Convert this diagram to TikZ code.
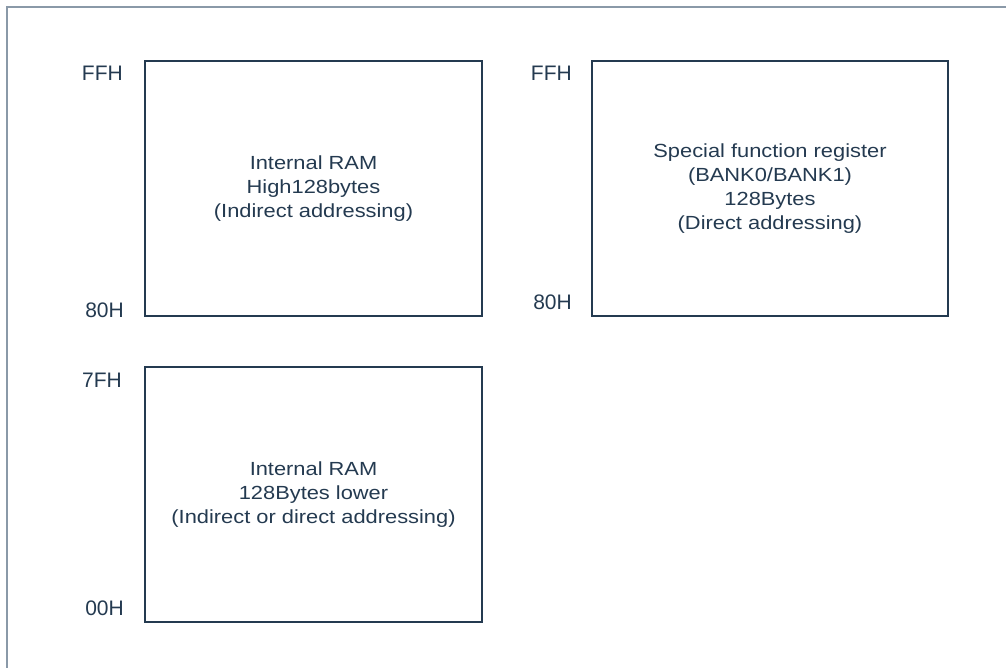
\documentclass[tikz,border=0pt]{standalone}
\usepackage{xcolor}
\usepackage{fontspec}
\setmainfont{Liberation Sans}[FakeStretch=1.15]
\newfontfamily\addrfont{Liberation Sans}
\usepackage{tikz}
\definecolor{framegray}{HTML}{8A99A8}
\definecolor{boxnavy}{HTML}{243A50}
\tikzset{
  membox/.style={draw=boxnavy, line width=1.1pt, align=center, inner sep=0pt,
    font=\fontsize{19}{24}\selectfont, text=boxnavy},
  addr/.style={anchor=base east, inner sep=0pt, text=boxnavy,
    font=\addrfont\fontsize{21}{24}\selectfont}
}
\begin{document}
\begin{tikzpicture}[x=1pt,y=-1pt]
\useasboundingbox (0,0) rectangle (1006,668);
%外框
\draw [framegray, line width=1.3pt] (7,668) -- (7,7) -- (1006,7);
%存储区
\node (ramhigh) [membox, minimum width=337, minimum height=255] at (313.5,188.5)
  {Internal RAM\\High128bytes\\(Indirect addressing)};
\node (sfr) [membox, minimum width=356, minimum height=255] at (770,188.5)
  {Special function register\\(BANK0/BANK1)\\128Bytes\\(Direct addressing)};
\node (ramlow) [membox, minimum width=337, minimum height=255] at (313.5,494.5)
  {Internal RAM\\128Bytes lower\\(Indirect or direct addressing)};
%地址
\node (hightop) [addr] at (123,81) {FFH};
\node (highbot) [addr] at (124,317) {80H};
\node (sfrtop) [addr] at (572,81) {FFH};
\node (sfrbot) [addr] at (572,309) {80H};
\node (lowtop) [addr] at (122,387) {7FH};
\node (lowbot) [addr] at (124,615) {00H};
\end{tikzpicture}
\end{document}
